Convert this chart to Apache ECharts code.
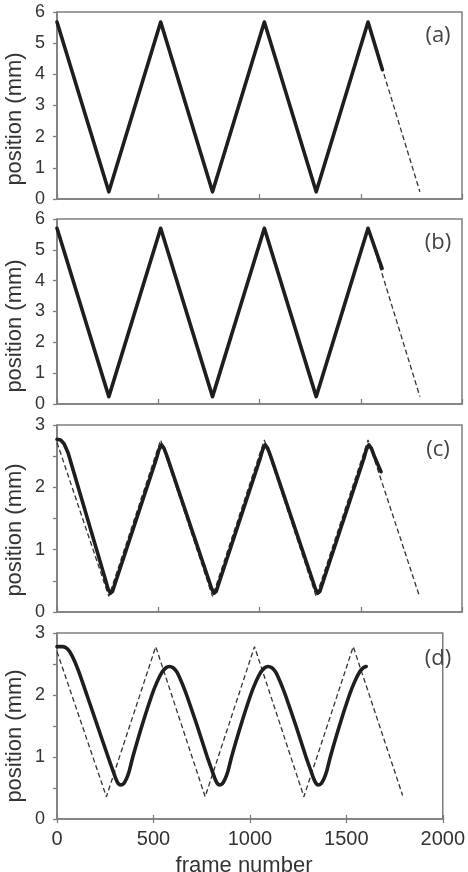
<!DOCTYPE html>
<html>
<head>
<meta charset="utf-8">
<script src="https://cdn.jsdelivr.net/npm/echarts@6/dist/echarts.min.js"></script>
<style>
html,body{margin:0;padding:0;background:#fff;}
#chart{width:468px;height:872px;}
</style>
</head>
<body>
<div id="chart"></div>
<script>
// ---- data ----
const xTickValues = [0, 500, 1000, 1500, 2000];
const panelLabels = ['(a)', '(b)', '(c)', '(d)'];
const yMaxes = [6, 6, 3, 3];
const yIntervals = [1, 1, 0.5, 0.5];
const yTitle = 'position (mm)';
const xTitle = 'frame number';

// panel (a)
const aRefFrames = [0, 256, 512, 768, 1024, 1280, 1536, 1792];
const aRefPos    = [5.68, 0.23, 5.68, 0.23, 5.68, 0.23, 5.68, 0.23];
const aMeasFrames = [0, 256, 512, 768, 1024, 1280, 1536, 1607];
const aMeasPos    = [5.68, 0.23, 5.68, 0.23, 5.68, 0.23, 5.68, 4.15];

// panel (b)
const bRefFrames = [0, 256, 512, 768, 1024, 1280, 1536, 1792];
const bRefPos    = [5.70, 0.24, 5.70, 0.24, 5.70, 0.24, 5.70, 0.24];
const bMeasFrames = [0, 256, 512, 768, 1024, 1280, 1536, 1605];
const bMeasPos    = [5.70, 0.24, 5.70, 0.24, 5.70, 0.24, 5.70, 4.40];

// panel (c)
const cRefFrames = [0, 256, 512, 768, 1024, 1280, 1536, 1790];
const cRefPos    = [2.72, 0.25, 2.76, 0.25, 2.76, 0.25, 2.76, 0.25];
const cMeasFrames = [0, 18, 35, 55, 239, 252, 264, 274, 289, 491, 503, 516, 528, 543,
  751, 764, 776, 786, 801, 1003, 1015, 1028, 1040, 1055,
  1263, 1276, 1288, 1298, 1313, 1515, 1527, 1540, 1552, 1567, 1600];
const cMeasPos = [2.77, 2.76, 2.70, 2.55, 0.52, 0.37, 0.30, 0.33, 0.48, 2.46, 2.60, 2.68, 2.63, 2.50,
  0.50, 0.37, 0.30, 0.33, 0.48, 2.46, 2.60, 2.68, 2.63, 2.50,
  0.50, 0.37, 0.30, 0.33, 0.48, 2.46, 2.60, 2.68, 2.63, 2.50, 2.25];

// panel (d)
const dRefFrames = [0, 256, 512, 768, 1024, 1280, 1536, 1792];
const dRefPos    = [2.70, 0.36, 2.78, 0.36, 2.78, 0.36, 2.78, 0.38];
const dMeasFrames = [0, 30, 55, 80, 110, 155, 210, 265, 290, 305, 318, 330,
  345, 360, 375, 393, 440, 492, 520, 545, 565, 582,
  602, 622, 647, 672, 727, 779, 804, 819, 832, 842,
  857, 872, 887, 905, 952, 1004, 1032, 1057, 1077, 1094,
  1114, 1134, 1159, 1184, 1239, 1291, 1316, 1331, 1344, 1354,
  1369, 1384, 1399, 1417, 1464, 1516, 1544, 1569, 1589, 1603];
const dMeasPos = [2.78, 2.78, 2.74, 2.62, 2.40, 2.00, 1.50, 1.00, 0.78, 0.65, 0.57, 0.55,
  0.57, 0.65, 0.78, 1.00, 1.50, 2.00, 2.22, 2.37, 2.44, 2.46,
  2.44, 2.37, 2.20, 2.00, 1.50, 1.00, 0.78, 0.65, 0.57, 0.55,
  0.57, 0.65, 0.78, 1.00, 1.50, 2.00, 2.22, 2.37, 2.44, 2.46,
  2.44, 2.37, 2.20, 2.00, 1.50, 1.00, 0.78, 0.65, 0.57, 0.55,
  0.57, 0.65, 0.78, 1.00, 1.50, 2.00, 2.22, 2.37, 2.44, 2.46];

const refSets = [[aRefFrames, aRefPos], [bRefFrames, bRefPos], [cRefFrames, cRefPos], [dRefFrames, dRefPos]];
const measSets = [[aMeasFrames, aMeasPos], [bMeasFrames, bMeasPos], [cMeasFrames, cMeasPos], [dMeasFrames, dMeasPos]];

// ---- layout ----
const gridTops = [12, 219, 425, 633];
const gridHeights = [187, 185, 187, 186];
const axisColor = '#7d7d7d';
const textColor = '#333';
const tickFont = "'Liberation Sans'";

const pairs = (fs, ps) => fs.map((f, i) => [f, ps[i]]);

const grids = [], xAxes = [], yAxes = [], series = [], graphics = [];
for (let i = 0; i < 4; i++) {
  grids.push({left: 57, width: 405, top: gridTops[i], height: gridHeights[i],
    show: true, borderColor: axisColor, borderWidth: 1.5, backgroundColor: 'transparent'});
  xAxes.push({gridIndex: i, type: 'value', min: 0, max: 2000, interval: 500, position: 'bottom',
    axisLine: {show: true, onZero: false, lineStyle: {color: axisColor, width: 1.5}},
    axisTick: {show: true, inside: i < 3, length: i < 3 ? 5 : 4, lineStyle: {color: axisColor, width: 1.3}},
    axisLabel: {show: i === 3, fontSize: 20, color: textColor, fontFamily: tickFont, margin: 10,
      formatter: v => String(v)},
    splitLine: {show: false}});
  yAxes.push({gridIndex: i, type: 'value', min: 0, max: yMaxes[i], interval: yIntervals[i],
    axisLine: {show: true, onZero: false, lineStyle: {color: axisColor, width: 1.5}},
    axisTick: {show: true, inside: false, length: 4, lineStyle: {color: axisColor, width: 1.3}},
    axisLabel: {fontSize: 18, color: textColor, fontFamily: tickFont, margin: 12,
      formatter: v => (Math.abs(v - Math.round(v)) < 1e-9 ? String(Math.round(v)) : '')},
    splitLine: {show: false}});
  series.push({type: 'line', xAxisIndex: i, yAxisIndex: i, data: pairs(refSets[i][0], refSets[i][1]),
    showSymbol: false, symbol: 'none', silent: true, z: 2,
    lineStyle: {color: '#333', width: 1.3, type: [5, 3]}});
  series.push({type: 'line', xAxisIndex: i, yAxisIndex: i, data: pairs(measSets[i][0], measSets[i][1]),
    showSymbol: false, symbol: 'none', silent: true, z: 3, smooth: i === 3 ? 0.25 : 0,
    lineStyle: {color: '#1e1e1e', width: 3.6, cap: 'round', join: 'round'}});
}
// extra axis for crossing ticks in panel (d)
xAxes.push({gridIndex: 3, type: 'value', min: 0, max: 2000, interval: 500, position: 'bottom',
  axisLine: {show: false}, axisTick: {show: true, inside: true, length: 4, lineStyle: {color: axisColor, width: 1.3}},
  axisLabel: {show: false}, splitLine: {show: false}});

const yTitleCenters = [119, 326, 530, 736];
const labelCenters = [36, 243, 450, 659];
for (let i = 0; i < 4; i++) {
  graphics.push({type: 'text', x: 15, y: yTitleCenters[i], rotation: Math.PI / 2,
    style: {text: yTitle, fontSize: 22, fill: textColor, fontFamily: tickFont, align: 'center', verticalAlign: 'middle'}});
  graphics.push({type: 'text', x: 438, y: labelCenters[i],
    style: {text: panelLabels[i], fontSize: 22, fill: '#444', fontFamily: "'Open Sans'", align: 'center', verticalAlign: 'middle'}});
}
graphics.push({type: 'text', x: 244, y: 866,
  style: {text: xTitle, fontSize: 22, fill: textColor, fontFamily: tickFont, align: 'center', verticalAlign: 'middle'}});

const chart = echarts.init(document.getElementById('chart'), null, {renderer: 'canvas'});
chart.setOption({
  animation: false,
  backgroundColor: '#fff',
  grid: grids, xAxis: xAxes, yAxis: yAxes, series: series, graphic: graphics
});
</script>
</body>
</html>
